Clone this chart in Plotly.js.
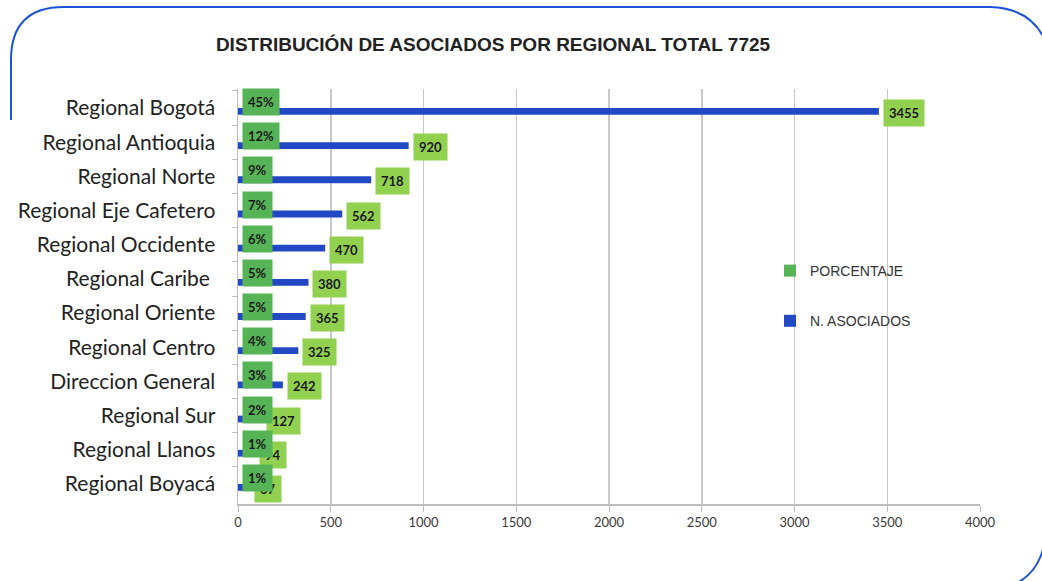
<!DOCTYPE html>
<html>
<head>
<meta charset="utf-8">
<script src="https://cdn.plot.ly/plotly-3.0.1.min.js"></script>
<style>
  html, body { margin: 0; padding: 0; background: #ffffff; }
  #chart { width: 1042px; height: 581px; }
</style>
</head>
<body>
<div id="chart"></div>
<script>
// ---- data ----
const categories = [
  "Regional Bogotá", "Regional Antioquia", "Regional Norte", "Regional Eje Cafetero",
  "Regional Occidente", "Regional Caribe ", "Regional Oriente", "Regional Centro",
  "Direccion General", "Regional Sur", "Regional Llanos", "Regional Boyacá"
];
const asociados = [3455, 920, 718, 562, 470, 380, 365, 325, 242, 127, 94, 67];
const porcentaje = [45, 12, 9, 7, 6, 5, 5, 4, 3, 2, 1, 1];
const xTicks = [0, 500, 1000, 1500, 2000, 2500, 3000, 3500, 4000];
const titleText = "DISTRIBUCIÓN DE ASOCIADOS POR REGIONAL TOTAL 7725";
const seriesNames = ["PORCENTAJE", "N. ASOCIADOS"];

// ---- styling ----
const W = 1042, H = 581;
const M = { l: 238, r: 62, t: 89, b: 77 };
const PW = W - M.l - M.r, PH = H - M.t - M.b;
const px = x => (x - M.l) / PW;
const py = y => (H - M.b - y) / PH;
const pt = (x, y) => px(x).toFixed(5) + "," + py(y).toFixed(5);

const BLUE = "#2348c4";
const DARKGREEN = "#56b456";
const LIGHTGREEN = "#92d050";

const traces = [
  {
    type: "bar", orientation: "h", name: seriesNames[0],
    y: categories, x: porcentaje.map(v => v / 100),
    marker: { color: DARKGREEN }, legendgroup: "g1",
    hoverinfo: "skip"
  },
  {
    type: "bar", orientation: "h", name: seriesNames[1],
    y: categories, x: asociados,
    marker: { color: BLUE }, legendgroup: "g2",
    hoverinfo: "skip"
  }
];

const annotations = [];
categories.forEach((c, i) => {
  annotations.push({
    x: asociados[i], y: c, xref: "x", yref: "y",
    text: "<b>" + asociados[i] + "</b>", showarrow: false,
    xanchor: "left", yanchor: "middle", xshift: 4, yshift: -5,
    bgcolor: LIGHTGREEN, borderpad: 5,
    font: { family: "Lato, 'Liberation Sans', sans-serif", size: 13, color: "#1a1a1a" }
  });
});
categories.forEach((c, i) => {
  annotations.push({
    x: 0, y: c, xref: "x", yref: "y",
    text: "<b>" + porcentaje[i] + "%</b>", showarrow: false,
    xanchor: "left", yanchor: "middle", xshift: 4, yshift: 6,
    bgcolor: DARKGREEN, borderpad: 5,
    font: { family: "Lato, 'Liberation Sans', sans-serif", size: 13, color: "#1a1a1a" }
  });
});

const borderTop = "M" + pt(11, 120) + " L" + pt(11, 60) + " Q" + pt(11, 7) + " " + pt(64, 7) +
  " L" + pt(990, 7) + " Q" + pt(1030, 8) + " " + pt(1045, 40);
const borderBottom = "M" + pt(1045, 540) + " Q" + pt(1040, 572) + " " + pt(1015, 584);

const layout = {
  width: W, height: H,
  margin: M,
  paper_bgcolor: "#ffffff", plot_bgcolor: "#ffffff",
  title: {
    text: "<b>" + titleText + "</b>",
    x: 493 / W, xanchor: "center", xref: "container",
    y: 1 - 44 / H, yanchor: "middle", yref: "container",
    font: { family: "'Liberation Sans', Arial, sans-serif", size: 19, color: "#222222" }
  },
  barmode: "group", bargap: 0.6, bargroupgap: 0,
  showlegend: true,
  legend: {
    x: px(770), y: py(255), xanchor: "left", yanchor: "top",
    traceorder: "grouped", tracegroupgap: 29,
    font: { family: "'Liberation Sans', Arial, sans-serif", size: 14, color: "#333333" },
    bgcolor: "rgba(0,0,0,0)"
  },
  xaxis: {
    range: [0, 4000], tickvals: xTicks, ticktext: xTicks.map(String),
    showgrid: true, gridcolor: "#c8c8c8", gridwidth: 1.5,
    showline: true, linecolor: "#bcbcbc", linewidth: 1.5,
    ticks: "outside", ticklen: 6, tickcolor: "#bcbcbc",
    zeroline: false, fixedrange: true,
    tickfont: { family: "'Liberation Sans Narrow', Lato, sans-serif", size: 13, color: "#3a3a3a" }
  },
  yaxis: {
    type: "category", categoryorder: "array", categoryarray: categories,
    autorange: "reversed",
    showgrid: false, showline: true, linecolor: "#bcbcbc", linewidth: 1.5,
    ticks: "outside", tickson: "boundaries", ticklen: 5, tickcolor: "#bcbcbc",
    ticklabelstandoff: 17, fixedrange: true,
    tickfont: { family: "Lato, 'Open Sans', sans-serif", size: 21, color: "#222222" }
  },
  annotations: annotations,
  shapes: [
    { type: "path", xref: "paper", yref: "paper", path: borderTop, line: { color: "#1a52d8", width: 2 } },
    { type: "path", xref: "paper", yref: "paper", path: borderBottom, line: { color: "#1a52d8", width: 2 } }
  ]
};

Plotly.newPlot("chart", traces, layout, { displayModeBar: false, staticPlot: true });
</script>
</body>
</html>
